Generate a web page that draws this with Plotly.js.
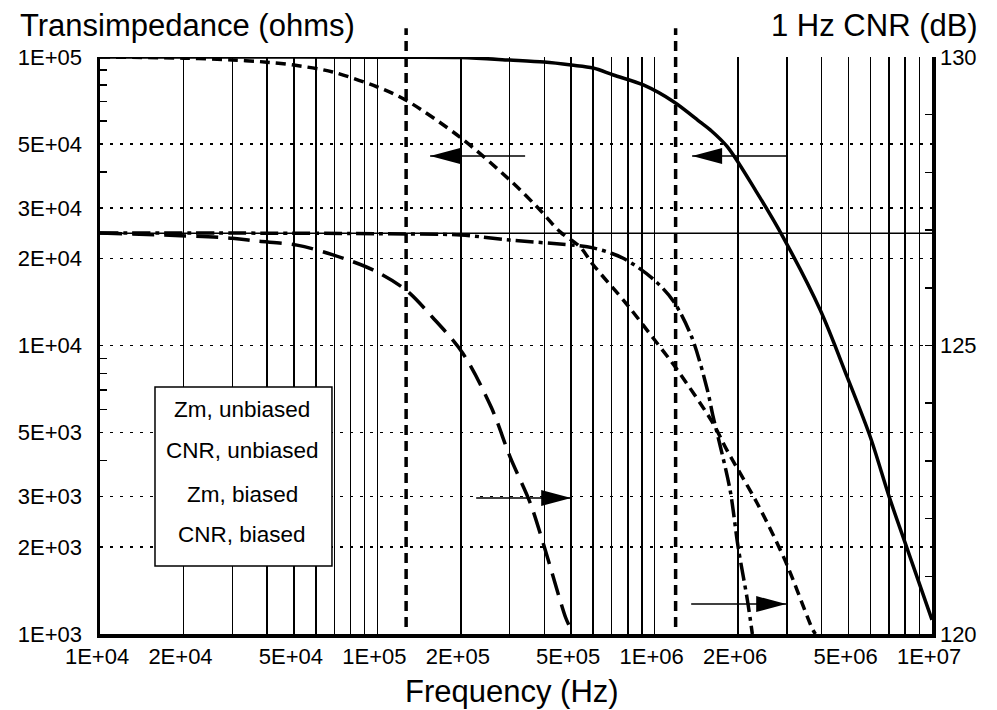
<!DOCTYPE html>
<html><head><meta charset="utf-8">
<script src="https://cdn.plot.ly/plotly-3.0.1.min.js"></script>
<style>html,body{margin:0;padding:0;background:#fff}#chart{width:997px;height:710px}</style>
</head><body><div id="chart"></div>
<script>
// ---- axis ticks ----
const freqTicks = [1e4,2e4,3e4,4e4,5e4,6e4,7e4,8e4,9e4,
                   1e5,2e5,3e5,4e5,5e5,6e5,7e5,8e5,9e5,
                   1e6,2e6,3e6,4e6,5e6,6e6,7e6,8e6,9e6,1e7];
const freqLabels = ['1E+04','2E+04','','','5E+04','','','','',
                    '1E+05','2E+05','','','5E+05','','','','',
                    '1E+06','2E+06','','','5E+06','','','','','1E+07'];
const zTicks  = [1e3,2e3,3e3,5e3,1e4,2e4,3e4,5e4,1e5];
const zLabels = ['1E+03','2E+03','3E+03','5E+03','1E+04','2E+04','3E+04','5E+04','1E+05'];
const zMinor  = [4e3,6e3,7e3,8e3,9e3,4e4,6e4,7e4,8e4,9e4];
const cnrTicks  = [120,121,122,123,124,125,126,127,128,129,130];
const cnrLabels = ['120','','','','','125','','','','','130'];

// ---- series ----
// Zm, unbiased (ohms)
const fZmUnb = [1e4,3e4,1e5,2e5,3e5,4e5,5e5,6e5,7.1e5,9.1e5,1.17e6,1.46e6,1.59e6,1.83e6,2.34e6,2.9e6,3.95e6,4.94e6,6e6,7e6,8.1e6,1e7];
const zmUnb  = [1e5,1e5,9.98e4,9.96e4,9.76e4,9.6e4,9.38e4,9.16e4,8.66e4,8.0e4,7.0e4,5.95e4,5.58e4,4.88e4,3.38e4,2.38e4,1.33e4,7.8e3,4.8e3,3.0e3,2.0e3,1.12e3];
// CNR, unbiased (dB)
const fCnrUnb = [1e4,2e4,3e4,4e4,5e4,6.9e4,1e5,1.27e5,2e5,3e5,3.77e5,4.56e5,5.38e5,6e5,7.95e5,9.87e5,1.185e6,1.62e6,1.82e6,2.34e6,2.95e6,3.72e6,3.8e6];
const cnrUnb  = [130,129.98,129.95,129.91,129.86,129.74,129.48,129.25,128.6,127.87,127.4,126.97,126.71,126.4,125.71,125.13,124.63,123.66,123.19,122.27,121.28,120.07,120.0];
// Zm, biased (ohms)
const fZmB = [1e4,5e4,1e5,2e5,3e5,5e5,6e5,7.67e5,9.87e5,1.165e6,1.36e6,1.55e6,1.62e6,1.72e6,1.87e6,2.0e6,2.16e6,2.25e6];
const zmB  = [2.455e4,2.45e4,2.44e4,2.415e4,2.32e4,2.23e4,2.18e4,2.01e4,1.7e4,1.43e4,1.07e4,7.0e3,5.74e3,4.52e3,3.16e3,2.0e3,1.31e3,1.0e3];
// CNR, biased (dB)
const fCnrB = [1e4,3e4,3.68e4,5.13e4,6.92e4,9.64e4,1.27e5,1.58e5,2.03e5,2.58e5,3.01e5,3.56e5,3.96e5,4.77e5,4.9e5];
const cnrB  = [126.95,126.86,126.81,126.74,126.57,126.31,125.96,125.49,124.87,123.92,123.07,122.27,121.58,120.29,120.16];

// ---- reference lines & arrows ----
const markerFreqs = [1.27e5, 1.19e6];      // vertical dashed lines
const biasedLevel = 2.45e4;                 // thin horizontal line (ohms)
const arrowTipF = [1.55e5, 1.365e6, 5.0e5, 2.98e6];
const arrowTipZ = [4.54e4, 4.54e4, 2.96e3, 1.27e3];
const arrowDir  = [-1, -1, 1, 1];           // -1 points left (ohms axis), +1 right (dB axis)
const legendLabels = ['Zm, unbiased','CNR, unbiased','Zm, biased','CNR, biased'];

const FONT = 'Liberation Sans, Arial, Helvetica, sans-serif';
const W = 3.5;
const SM = 0.9;

const traces = [
  {x:fZmUnb, y:zmUnb, yaxis:'y', mode:'lines', line:{color:'#000', width:W, shape:'spline', smoothing:SM}, name:legendLabels[0]},
  {x:fCnrUnb, y:cnrUnb, yaxis:'y2', mode:'lines', line:{color:'#000', width:W, dash:'10px,6px', shape:'spline', smoothing:SM}, name:legendLabels[1]},
  {x:fZmB, y:zmB, yaxis:'y', mode:'lines', line:{color:'#000', width:W, dash:'18px,5px,4px,5px', shape:'spline', smoothing:SM}, name:legendLabels[2]},
  {x:fCnrB, y:cnrB, yaxis:'y2', mode:'lines', line:{color:'#000', width:W, dash:'22px,10px', shape:'spline', smoothing:SM}, name:legendLabels[3]}
];

const shapes = [];
shapes.push({type:'line', xref:'paper', x0:0, x1:1, yref:'y', y0:biasedLevel, y1:biasedLevel,
             line:{color:'#000', width:1.5}, layer:'below'});
markerFreqs.forEach(f => shapes.push({type:'line', xref:'x', x0:f, x1:f, yref:'paper', y0:0.012, y1:1.05,
             line:{color:'#000', width:3.5, dash:'10px,6px'}, layer:'above'}));
arrowTipF.forEach((f,i) => {
  const d = arrowDir[i];
  shapes.push({type:'path', xref:'x', xsizemode:'pixel', xanchor:f, yref:'y', ysizemode:'pixel', yanchor:arrowTipZ[i],
               path:`M0,0 L${-d*95},0`, line:{color:'#000', width:1.6}, layer:'above'});
  shapes.push({type:'path', xref:'x', xsizemode:'pixel', xanchor:f, yref:'y', ysizemode:'pixel', yanchor:arrowTipZ[i],
               path:`M0,0 L${-d*30},8 L${-d*30},-8 Z`, fillcolor:'#000', line:{width:0}, layer:'above'});
});
// legend box
shapes.push({type:'rect', xref:'paper', yref:'paper', x0:0.0661, x1:0.2788, y0:0.1179, y1:0.4281,
             fillcolor:'#fff', line:{color:'#000', width:1.5}, layer:'above'});

const legendY = [0.3899, 0.3172, 0.2426, 0.1733];
const annotations = legendLabels.map((t,i) => ({text:t, xref:'paper', yref:'paper', x:0.1707, y:legendY[i],
   xanchor:'center', yanchor:'middle', showarrow:false, font:{family:FONT, size:22.5, color:'#000'}}));
annotations.push({text:'Transimpedance (ohms)', xref:'paper', yref:'paper', x:0.1052, y:1.0546,
   xanchor:'center', yanchor:'middle', showarrow:false, font:{family:FONT, size:31, color:'#000'}});
annotations.push({text:'1 Hz CNR (dB)', xref:'paper', yref:'paper', x:1.0577, y:1.0546,
   xanchor:'right', yanchor:'middle', showarrow:false, font:{family:FONT, size:31, color:'#000'}});
annotations.push({text:'Frequency (Hz)', xref:'paper', yref:'paper', x:0.4946, y:-0.0988,
   xanchor:'center', yanchor:'middle', showarrow:false, font:{family:FONT, size:31, color:'#000'}});

const TF = {family:FONT, size:22, color:'#000'};
const layout = {
  width:997, height:710,
  margin:{l:100, r:65, t:57, b:76},
  paper_bgcolor:'#fff', plot_bgcolor:'#fff',
  showlegend:false,
  font:{family:FONT, size:22, color:'#000'},
  xaxis:{type:'log', range:[4,7], tickmode:'array', tickvals:freqTicks, ticktext:freqLabels,
         showgrid:true, gridcolor:'#000', gridwidth:1.5, ticks:'', showline:true, linecolor:'#000', linewidth:W,
         zeroline:false, ticklabelshift:-3, tickfont:TF},
  yaxis:{type:'log', range:[3,5], tickmode:'array', tickvals:zTicks, ticktext:zLabels,
         showgrid:true, gridcolor:'#000', gridwidth:1.5, griddash:'3px,7px', ticks:'',
         showline:true, linecolor:'#000', linewidth:W, zeroline:false, ticklabelstandoff:10,
         minor:{tickmode:'array', tickvals:zMinor, ticks:'inside', ticklen:7, tickwidth:1.5, tickcolor:'#000', showgrid:false},
         tickfont:TF},
  yaxis2:{overlaying:'y', side:'right', range:[120,130], tickmode:'array', tickvals:cnrTicks, ticktext:cnrLabels,
          ticks:'inside', ticklen:7, tickwidth:1.5, tickcolor:'#000', showgrid:false, zeroline:false,
          showline:true, linecolor:'#000', linewidth:W, tickfont:TF},
  shapes:shapes,
  annotations:annotations
};
Plotly.newPlot('chart', traces, layout, {displayModeBar:false, staticPlot:true});
</script>
</body></html>
